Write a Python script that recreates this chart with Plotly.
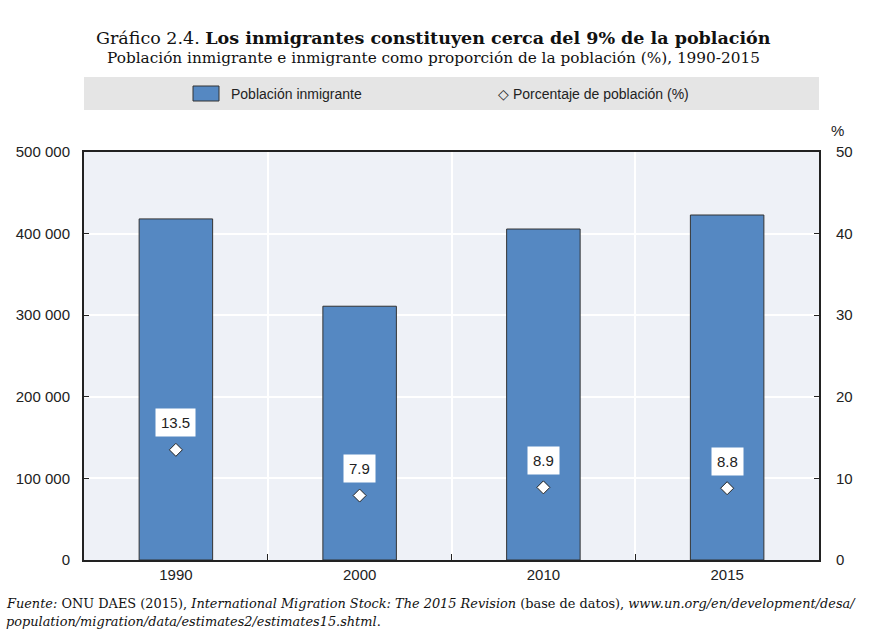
import plotly.graph_objects as go

years = ["1990", "2000", "2010", "2015"]
population = [418000, 311000, 405600, 422800]
percent = [13.5, 7.9, 8.9, 8.8]
left_ticks = [0, 100000, 200000, 300000, 400000, 500000]
right_ticks = [0, 10, 20, 30, 40, 50]

SANS = "Liberation Sans Narrow, Arial Narrow, Liberation Sans, Arial"
SERIF = "DejaVu Serif, Liberation Serif, serif"
BAR = "#5588C2"

fig = go.Figure()
fig.add_trace(go.Bar(
    x=years, y=population, name="Población inmigrante",
    marker=dict(color=BAR, line=dict(color="#333333", width=1)),
    width=0.4, yaxis="y", showlegend=False, hoverinfo="skip"))
fig.add_trace(go.Scatter(
    x=years, y=percent, name="Porcentaje de población (%)", mode="markers",
    marker=dict(symbol="diamond", size=10, color="white",
                line=dict(color="#222222", width=1)),
    yaxis="y2", showlegend=False, hoverinfo="skip"))

for i, p in enumerate(percent):
    fig.add_annotation(x=i, y=p, xref="x", yref="y2", text=f"{p:.1f}",
                       showarrow=False, yshift=27, bgcolor="white",
                       borderpad=5, font=dict(family=SANS, size=15, color="#222"))


def py(pix):
    return (634 - 74 - pix) / 408


def px(pix):
    return (pix - 84) / 735


# Legend band
fig.add_shape(type="rect", xref="paper", yref="paper", x0=0, x1=1,
              y0=py(110), y1=py(77),
              fillcolor="#E5E5E5", line=dict(width=0), layer="below")
fig.add_shape(type="rect", xref="paper", yref="paper",
              x0=px(193), x1=px(219), y0=py(101), y1=py(86),
              fillcolor=BAR, line=dict(color="#333333", width=1))
fig.add_annotation(xref="paper", yref="paper", x=px(229), y=py(93.5),
                   xanchor="left", yanchor="middle",
                   text="Población inmigrante", showarrow=False,
                   font=dict(family=SANS, size=14, color="#222"))
fig.add_annotation(xref="paper", yref="paper", x=px(496), y=py(93.5),
                   xanchor="left", yanchor="middle",
                   text="◇ Porcentaje de población (%)", showarrow=False,
                   font=dict(family=SANS, size=14, color="#222"))

# Title & subtitle
fig.add_annotation(xref="paper", yref="paper", x=px(433), y=py(38),
                   xanchor="center", yanchor="middle",
                   text="Gráfico 2.4. <b>Los inmigrantes constituyen cerca del 9% de la población</b>",
                   showarrow=False, font=dict(family=SERIF, size=17.5, color="#111"))
fig.add_annotation(xref="paper", yref="paper", x=px(433), y=py(58),
                   xanchor="center", yanchor="middle",
                   text="Población inmigrante e inmigrante como proporción de la población (%), 1990-2015",
                   showarrow=False, font=dict(family=SERIF, size=15.3, color="#111"))
# % label
fig.add_annotation(xref="paper", yref="paper", x=px(829), y=py(130),
                   xanchor="left", yanchor="middle",
                   text="%", showarrow=False, font=dict(family=SANS, size=15, color="#222"))
# Footer
fig.add_annotation(xref="paper", yref="paper", x=px(4), y=py(603),
                   xanchor="left", yanchor="middle",
                   text="<i>Fuente:</i> ONU DAES (2015), <i>International Migration Stock: The 2015 Revision</i> (base de datos), <i>www.un.org/en/development/desa/</i>",
                   showarrow=False, font=dict(family=SERIF, size=12.9, color="#111"))
fig.add_annotation(xref="paper", yref="paper", x=px(4), y=py(621),
                   xanchor="left", yanchor="middle",
                   text="<i>population/migration/data/estimates2/estimates15.shtml</i>.",
                   showarrow=False, font=dict(family=SERIF, size=12.9, color="#111"))

fig.update_layout(
    width=869, height=634,
    margin=dict(l=84, r=50, t=152, b=74),
    paper_bgcolor="white", plot_bgcolor="#EEF1F7",
    separators=". ",
    showlegend=False,
    font=dict(family=SANS, size=15, color="#222"),
    xaxis=dict(type="category", tickson="boundaries", ticks="inside", ticklen=6,
               tickcolor="#222", showgrid=True, gridcolor="white", gridwidth=2,
               showline=True, linecolor="#222", linewidth=2, mirror=True,
               tickfont=dict(family=SANS, size=15, color="#222"), range=[-0.5, 3.5]),
    yaxis=dict(range=[0, 500000], tickvals=left_ticks, tickformat=",d",
               ticks="inside", ticklen=5, tickcolor="#222", ticklabelstandoff=9,
               showgrid=True, gridcolor="white", gridwidth=2, zeroline=False,
               showline=True, linecolor="#222", linewidth=2, mirror=True,
               tickfont=dict(family=SANS, size=15, color="#222")),
    yaxis2=dict(range=[0, 50], tickvals=right_ticks, overlaying="y", side="right",
                ticks="inside", ticklen=5, tickcolor="#222", showgrid=False,
                ticklabelstandoff=12,
                zeroline=False, showline=True, linecolor="#222", linewidth=2,
                tickfont=dict(family=SANS, size=15, color="#222")),
    bargap=0.6,
)

fig.write_html("out.html")
